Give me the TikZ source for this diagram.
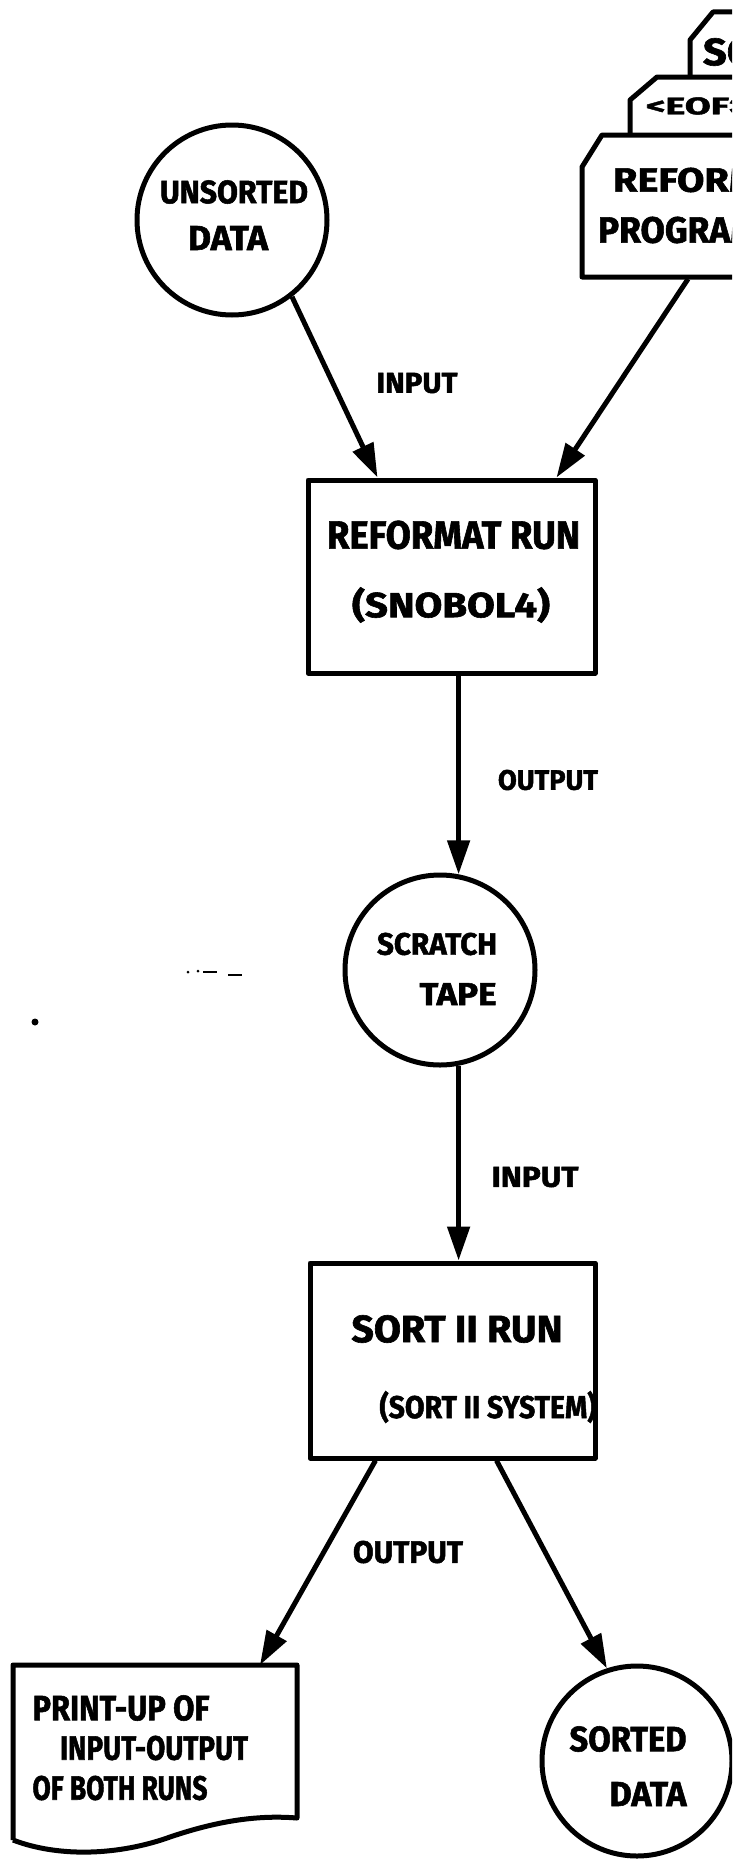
\documentclass[tikz,border=0pt]{standalone}
\usepackage{fontspec}
\setmainfont{Fira Sans}
\newfontfamily\hand[FakeBold=1.6]{Fira Sans Bold}
\usepackage{graphicx}
\usetikzlibrary{arrows.meta,calc}

% hand-lettered line squeezed into a given width and cap height
\newcommand\hw[3]{\resizebox{#1pt}{#2pt}{\hand #3}}

\tikzset{
  ink/.style={line width=5pt, draw=black, line join=round},
  flow/.style={line width=5pt, -{Triangle[length=34pt,width=22pt]}},
  store/.style={circle, ink, minimum size=190pt, inner sep=0pt},
  runbox/.style={rectangle, ink, inner sep=0pt},
  lbl/.style={inner sep=0pt, outer sep=0pt},
}

\begin{document}
\begin{tikzpicture}[x=1pt, y=-1pt]
\useasboundingbox (0,0) rectangle (732,1860);
\clip (0,0) rectangle (732,1860);
\fill[white] (0,0) rectangle (732,1860);

% ---- card deck (top right, running off the edge) ----
\draw[ink, fill=white] (690,80) -- (690,40) -- (713,12) -- (750,12) -- (750,80);
\draw[ink, fill=white] (630,138) -- (630,100) -- (657,77) -- (750,77) -- (750,138);
\draw[ink, fill=white] (582,277) -- (582,167) -- (602,135) -- (750,135) -- (750,277) -- cycle;
\coordinate (progbot) at (688,279);
\node[lbl, anchor=west] (cardtop) at (703,52) {\hw{100}{27}{SORT}};
\node[lbl, anchor=west] (cardeof) at (646,106) {\hw{102}{17}{<EOF>}};
\node[lbl, anchor=west] (cardprog1) at (613,180) {\hw{190}{24}{REFORMAT}};
\node[lbl, anchor=west] (cardprog2) at (598,230) {\hw{160}{26}{PROGRAM}};

% ---- storage circles ----
\node[store] (uns) at (232,220) {};
\node[lbl] (uns1) at (234,192) {\hw{148}{23}{UNSORTED}};
\node[lbl] (uns2) at (228,238) {\hw{80}{24}{DATA}};

\node[store] (scr) at (440,970) {};
\node[lbl] (scr1) at (437,944) {\hw{120}{22}{SCRATCH}};
\node[lbl] (scr2) at (458,994) {\hw{77}{22}{TAPE}};

\node[store] (srt) at (637,1761) {};
\node[lbl] (srt1) at (628,1739) {\hw{117}{25}{SORTED}};
\node[lbl] (srt2) at (648,1794) {\hw{77}{24}{DATA}};

% ---- processing runs ----
\node[runbox, minimum width=287pt, minimum height=193pt] (ref) at (451.5,576.5) {};
\node[lbl] (ref1) at (453.5,535) {\hw{253}{28}{REFORMAT RUN}};
\node[lbl] (ref2) at (451,605) {\hw{198}{30}{(SNOBOL4)}};

\node[runbox, minimum width=285pt, minimum height=195pt] (sort) at (452.5,1360.5) {};
\node[lbl] (sort1) at (457,1329) {\hw{211}{27}{SORT II RUN}};
\node[lbl] (sort2) at (488,1407) {\hw{217}{27}{(SORT II SYSTEM)}};

% ---- print-out document ----
\node[lbl, minimum width=284pt, minimum height=175pt] (prt) at (155,1752.5) {};
\draw[ink] (prt.south west) -- (prt.north west) -- (prt.north east)
  -- ($(prt.south east)+(0,-22)$)
  .. controls ($(prt.south east)+(-37,-25)$) and ($(prt.south east)+(-77,-20)$) .. ($(prt.south west)+(157,-3)$)
  .. controls ($(prt.south west)+(107,15)$) and ($(prt.south west)+(47,18)$) .. (prt.south west);
\node[lbl] (prt1) at (121,1708) {\hw{177}{25}{PRINT-UP OF}};
\node[lbl] (prt2) at (154,1748) {\hw{188}{24}{INPUT-OUTPUT}};
\node[lbl] (prt3) at (120,1788) {\hw{175}{24}{OF BOTH RUNS}};

% ---- connectors ----
\draw[flow] (uns.-52) -- ($(ref.north)+(-74,0)$);
\draw[flow] (progbot) -- ($(ref.north)+(105,0)$);
\draw[flow] (ref.south -| scr.79) -- (scr.79);
\draw[flow] (scr.-79) -- (scr.-79 |- sort.north);
\draw[flow] ($(sort.south)+(-77,0)$) -- ($(prt.north)+(105,0)$);
\draw[flow] ($(sort.south)+(44,0)$) -- (srt.108);

% ---- connector labels ----
\node[lbl] (in1) at (417,383) {\hw{81}{20}{INPUT}};
\node[lbl] (out1) at (548,780) {\hw{100}{20}{OUTPUT}};
\node[lbl] (in2) at (535,1177) {\hw{87}{20}{INPUT}};
\node[lbl] (out2) at (408,1552) {\hw{110}{22}{OUTPUT}};

% ---- stray marks ----
\fill (35,1022) circle (3.5);
\fill (188,972) circle (1.5);
\fill (198,971) circle (1.5);
\fill (203,970.5) rectangle (217,973);
\fill (228,973.5) rectangle (242,976);
\end{tikzpicture}
\end{document}
